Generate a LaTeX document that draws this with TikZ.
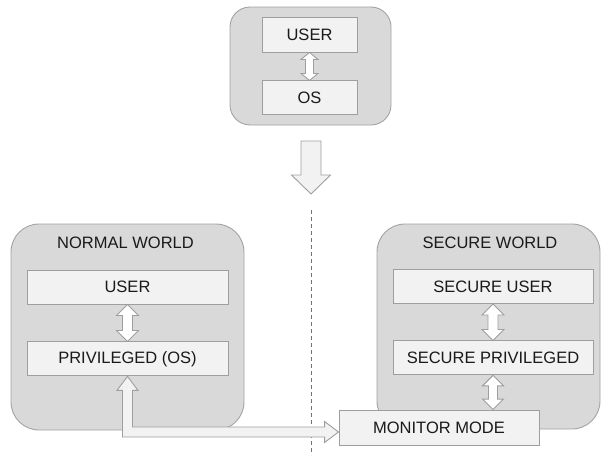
\documentclass[tikz,border=0pt]{standalone}
\usepackage{fontspec}
\setmainfont{Liberation Sans}
\usepackage{tikz}
\usetikzlibrary{positioning, calc}

\definecolor{worldfill}{HTML}{D9D9D9}
\definecolor{worldline}{HTML}{A3A3A3}
\definecolor{layerfill}{HTML}{F2F2F2}
\definecolor{layerline}{HTML}{9E9E9E}
\definecolor{inktext}{HTML}{1A1A1A}

\begin{document}
\begin{tikzpicture}[
    x=1pt, y=1pt,
    node distance=37pt,
    every node/.style={font=\fontsize{16.5}{19}\selectfont, text=inktext},
    world/.style={draw=worldline, fill=worldfill, line width=0.9pt, rounded corners=#1},
    world/.default=28pt,
    layer/.style={draw=layerline, fill=layerfill, line width=0.9pt, minimum width=201, minimum height=34, inner sep=0pt},
    blockarr/.style={draw=layerline, fill=#1, line width=0.9pt, line join=miter},
    blockarr/.default=white,
    dblarr/.style n args={3}{blockarr, to path={let \p1=(\tikztostart.south), \p2=(\tikztotarget.north) in
      (\x1,\y1) -- (\x1+#1,\y1-#3) -- (\x1+#2,\y1-#3) -- (\x1+#2,\y2+#3) -- (\x1+#1,\y2+#3) -- (\x1,\y2)
      -- (\x1-#1,\y2+#3) -- (\x1-#2,\y2+#3) -- (\x1-#2,\y1-#3) -- (\x1-#1,\y1-#3) -- cycle}}
]
\useasboundingbox (0,0) rectangle (601,-455);

% single world before the split
\node[world=20pt, minimum width=161, minimum height=118] (top) at (310.5,-66) {};
\node[layer, minimum width=95, minimum height=35] (tuser) at (309.5,-34.5) {USER};
\node[layer, minimum width=95, below=28pt of tuser] (tos) {OS};
\draw[dblarr={8.5}{4}{7}] (tuser) to (tos);

\coordinate (dtop) at (311,-141);
\coordinate (dtip) at (311,-194);
\draw[blockarr=layerfill] let \p1=(dtop), \p2=(dtip) in
  (\x1-10,\y1) -- (\x1+10,\y1) -- (\x1+10,\y2+19) -- (\x1+19.5,\y2+19) -- (\x2,\y2)
  -- (\x1-19.5,\y2+19) -- (\x1-10,\y2+19) -- cycle;

% divider
\coordinate (ltop) at (311,-210);
\coordinate (lbot) at (311,-455);
\draw[worldline!70!black, dash pattern=on 4pt off 3pt, line width=0.7pt] (ltop) -- (lbot);

% normal world
\node[world, minimum width=233, minimum height=206] (nw) at (127.5,-327) {};
\node (nwt) at (125.5,-243) {NORMAL WORLD};
\node[layer] (nuser) at (127.5,-287) {USER};
\node[layer, below=of nuser] (npriv) {PRIVILEGED (OS)};
\draw[dblarr={11}{5}{11}] (nuser) to (npriv);

% secure world
\node[world, minimum width=223, minimum height=205] (sw) at (488.5,-326.5) {};
\node (swt) at (490,-243) {SECURE WORLD};
\node[layer, minimum width=200] (suser) at (493,-286.5) {SECURE USER};
\node[layer, minimum width=200, below=36.5pt of suser] (spriv) {SECURE PRIVILEGED};
\node[layer, minimum width=200, minimum height=35] (mon) at (439,-427.5) {MONITOR MODE};
\draw[dblarr={11}{5}{11}] (suser) to (spriv);
\draw[dblarr={10.5}{4.5}{10.5}] (spriv) to (mon);

% monitor <-> privileged
\draw[blockarr=layerfill] let \p1=(npriv.south), \p2=([yshift=-4.5pt]mon.west) in
  (\x1,\y1) -- (\x1+10.5,\y1-14) -- (\x1+5,\y1-14) -- (\x1+5,\y2+5) -- (\x2-14,\y2+5)
  -- (\x2-14,\y2+10.5) -- (\x2,\y2) -- (\x2-14,\y2-10.5) -- (\x2-14,\y2-5) -- (\x1-5,\y2-5)
  -- (\x1-5,\y1-14) -- (\x1-10.5,\y1-14) -- cycle;
\end{tikzpicture}
\end{document}
